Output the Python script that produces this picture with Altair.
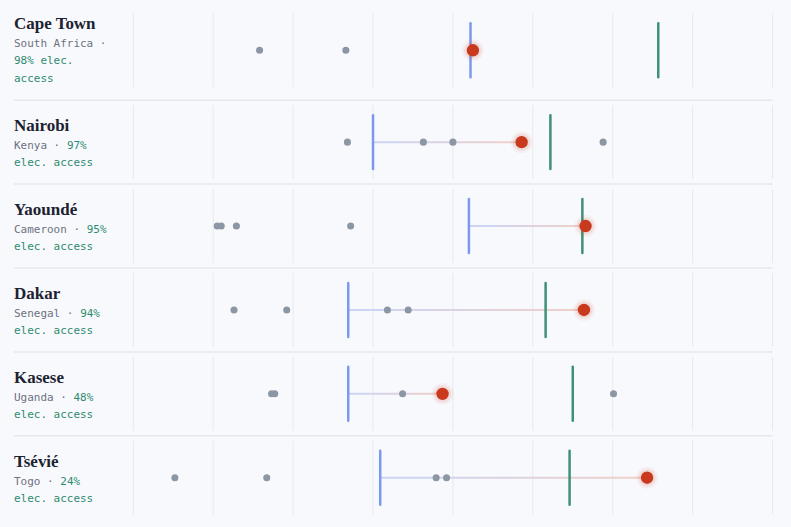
import altair as alt
import pandas as pd

# ---------------- data ----------------
cities = ["Cape Town", "Nairobi", "Yaoundé", "Dakar", "Kasese", "Tsévié"]
countries = ["South Africa", "Kenya", "Cameroon", "Senegal", "Uganda", "Togo"]
elec_access = [98, 97, 95, 94, 48, 24]
start_vals = [4.22, 3.00, 4.20, 2.69, 2.69, 3.09]   # blue marker
end_vals = [4.25, 4.86, 5.66, 5.64, 3.87, 6.43]     # red dot
ref_vals = [6.57, 5.22, 5.62, 5.16, 5.50, 5.46]     # green marker
other_vals = [
    [1.58, 2.66],
    [2.68, 3.63, 4.00, 5.88],
    [1.05, 1.10, 1.29, 2.72],
    [1.26, 1.92, 3.18, 3.44],
    [1.73, 1.77, 3.37, 6.01],
    [0.52, 1.67, 3.79, 3.92],
]
grid_ticks = [0, 1, 2, 3, 4, 5, 6, 7, 8]

# ---------------- style / layout ----------------
BG = "#f8f9fc"
GRID = "#e7e9ef"
SEP = "#e6e8ee"
BLUE = "#7d98ef"
GREEN = "#3d9178"
RED = "#c9391e"
DOT = "#8c97a6"
NAME_C = "#1c2230"
GRAY_T = "#6b7280"
GREEN_T = "#2e8a70"

W = 761
PX_PER_UNIT = 80.0
XMIN = -120.5 / PX_PER_UNIT
XMAX = XMIN + W / PX_PER_UNIT
TEXT_X = XMIN + 1 / PX_PER_UNIT
MONO_SIZE = 11
CHAR_W = 0.6021 * MONO_SIZE / PX_PER_UNIT
WRAP = 15

xscale = alt.Scale(domain=[XMIN, XMAX], nice=False, zero=False)


def wrap_label(country, pct):
    toks = [(w, "g") for w in country.split()] + [("·", "g"), (f"{pct}%", "e"),
                                                    ("elec.", "e"), ("access", "e")]
    lines, cur = [], []
    for t in toks:
        trial = " ".join(x[0] for x in cur + [t])
        if cur and len(trial) > WRAP:
            lines.append(cur)
            cur = [t]
        else:
            cur.append(t)
    if cur:
        lines.append(cur)
    return lines


def row_chart(i):
    first = i == 0
    H = 100 if first else 84
    c = 50 if first else 42
    yscale = alt.Scale(domain=[0, H], reverse=True, nice=False, zero=False)

    def X(f):
        return alt.X(f, type="quantitative", scale=xscale, axis=None)

    def Y(f):
        return alt.Y(f, type="quantitative", scale=yscale, axis=None)

    layers = []
    grid = pd.DataFrame({"x": grid_ticks, "y": c - 37, "y2": c + 37})
    layers.append(alt.Chart(grid).mark_rule(color=GRID, strokeWidth=1).encode(
        x=X("x"), y=Y("y"), y2="y2"))

    if not first:
        sep = pd.DataFrame({"x": [TEXT_X], "x2": [grid_ticks[-1]], "y": [0]})
        layers.append(alt.Chart(sep).mark_rule(color=SEP, strokeWidth=1.5).encode(
            x=X("x"), x2="x2", y=Y("y")))

    conn = pd.DataFrame({"x": [start_vals[i]], "x2": [end_vals[i]], "y": [c - 1], "y2": [c + 1]})
    grad = alt.Gradient(gradient="linear",
                        stops=[alt.GradientStop(color="#cad5f7", offset=0),
                               alt.GradientStop(color="#f0d0c8", offset=1)],
                        x1=0, x2=1, y1=0, y2=0)
    layers.append(alt.Chart(conn).mark_rect(color=grad).encode(
        x=X("x"), x2="x2", y=Y("y"), y2="y2"))

    blue = pd.DataFrame({"x": [start_vals[i]], "y": [c - 27], "y2": [c + 27]})
    layers.append(alt.Chart(blue).mark_rule(color=BLUE, strokeWidth=2.5, strokeCap="round").encode(
        x=X("x"), y=Y("y"), y2="y2"))
    green = pd.DataFrame({"x": [ref_vals[i]], "y": [c - 27], "y2": [c + 27]})
    layers.append(alt.Chart(green).mark_rule(color=GREEN, strokeWidth=2.5, strokeCap="round").encode(
        x=X("x"), y=Y("y"), y2="y2"))

    dots = pd.DataFrame({"x": other_vals[i], "y": c})
    layers.append(alt.Chart(dots).mark_circle(size=50, color=DOT, opacity=1).encode(
        x=X("x"), y=Y("y")))

    red = pd.DataFrame({"x": [end_vals[i]], "y": [c]})
    layers.append(alt.Chart(red).mark_circle(size=480, color=RED, opacity=0.05).encode(
        x=X("x"), y=Y("y")))
    layers.append(alt.Chart(red).mark_circle(size=300, color=RED, opacity=0.10).encode(
        x=X("x"), y=Y("y")))
    layers.append(alt.Chart(red).mark_circle(size=154, color=RED, opacity=1).encode(
        x=X("x"), y=Y("y")))

    # labels
    lines = wrap_label(countries[i], elec_access[i])
    n = len(lines)
    name_y = c - 11 - 10 * (n - 2)
    name_df = pd.DataFrame({"x": [TEXT_X], "y": [name_y], "t": [cities[i]]})
    layers.append(alt.Chart(name_df).mark_text(
        font="Liberation Serif", fontWeight="bold", fontSize=17, align="left",
        baseline="alphabetic", color=NAME_C).encode(x=X("x"), y=Y("y"), text="t"))

    grows, erows = [], []
    for k, ln in enumerate(lines):
        y = name_y + 18 + 17.2 * k
        gpart = " ".join(t for t, kind in ln if kind == "g")
        epart = " ".join(t for t, kind in ln if kind == "e")
        if gpart:
            grows.append({"x": TEXT_X, "y": y, "t": gpart})
        if epart:
            off = (len(gpart) + 1) if gpart else 0
            erows.append({"x": TEXT_X + off * CHAR_W, "y": y, "t": epart})
    if grows:
        layers.append(alt.Chart(pd.DataFrame(grows)).mark_text(
            font="DejaVu Sans Mono", fontSize=MONO_SIZE, align="left",
            baseline="alphabetic", color=GRAY_T).encode(x=X("x"), y=Y("y"), text="t"))
    if erows:
        layers.append(alt.Chart(pd.DataFrame(erows)).mark_text(
            font="DejaVu Sans Mono", fontSize=MONO_SIZE, align="left",
            baseline="alphabetic", color=GREEN_T).encode(x=X("x"), y=Y("y"), text="t"))

    return alt.layer(*layers).properties(width=W, height=H)


rows = [row_chart(i) for i in range(len(cities))]
chart = alt.vconcat(*rows, spacing=0, bounds="flush").properties(
    background=BG,
    padding={"left": 13, "top": 0, "right": 17, "bottom": 7},
).configure_view(stroke=None)

chart.save("out.html", embed_options={"renderer": "svg", "actions": False})
